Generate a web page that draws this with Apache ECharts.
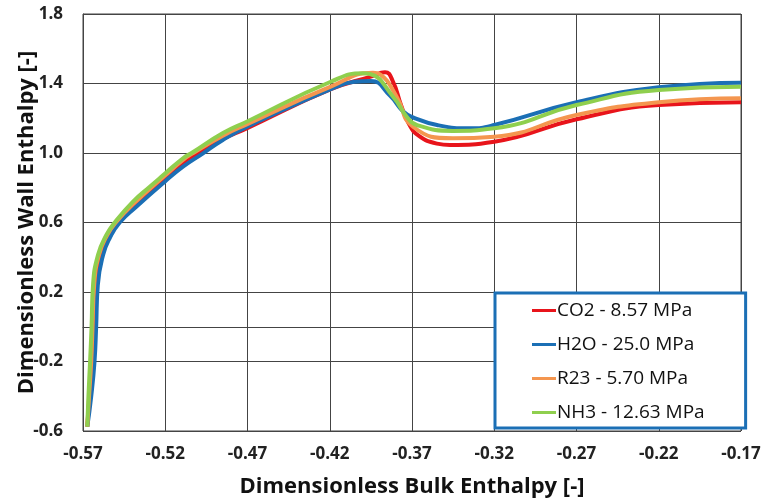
<!DOCTYPE html>
<html>
<head>
<meta charset="utf-8">
<script src="https://cdn.jsdelivr.net/npm/echarts@6/dist/echarts.min.js"></script>
<style>html,body{margin:0;padding:0;background:#fff}#c{width:767px;height:503px}</style>
</head>
<body>
<div id="c"></div>
<script>
var seriesNames = ['CO2 - 8.57 MPa', 'H2O - 25.0 MPa', 'R23 - 5.70 MPa', 'NH3 - 12.63 MPa'];
var xTicks = [-0.57, -0.52, -0.47, -0.42, -0.37, -0.32, -0.27, -0.22, -0.17];
var yTicks = [-0.6, -0.2, 0.2, 0.6, 1.0, 1.4, 1.8];

var co2 = [[-0.5674,-0.575],[-0.5660,-0.4],[-0.5645,-0.2],[-0.5635,0.0],[-0.5623,0.24],[-0.5595,0.413],[-0.5550,0.52],[-0.5487,0.6],[-0.5390,0.70],[-0.5203,0.854],[-0.5092,0.945],[-0.5000,1.0],[-0.4850,1.08],[-0.4705,1.142],[-0.4194,1.367],[-0.395,1.44],[-0.3864,1.465],[-0.3815,1.41],[-0.3768,1.28],[-0.3720,1.17],[-0.3660,1.10],[-0.3548,1.054],[-0.3469,1.046],[-0.32,1.065],[-0.27,1.194],[-0.22,1.276],[-0.17,1.292]];
var h2o = [[-0.5674,-0.575],[-0.5650,-0.4],[-0.5630,-0.2],[-0.5620,0.0],[-0.5610,0.24],[-0.5578,0.413],[-0.5538,0.509],[-0.5477,0.6],[-0.5376,0.691],[-0.5203,0.835],[-0.5092,0.921],[-0.4975,0.995],[-0.4850,1.075],[-0.4705,1.15],[-0.4194,1.367],[-0.405,1.41],[-0.395,1.415],[-0.3834,1.33],[-0.3755,1.24],[-0.3694,1.205],[-0.3548,1.161],[-0.3347,1.142],[-0.32,1.161],[-0.27,1.292],[-0.22,1.378],[-0.17,1.405]];
var r23 = [[-0.5674,-0.575],[-0.5663,-0.4],[-0.5650,-0.2],[-0.5642,0.0],[-0.5632,0.24],[-0.5603,0.413],[-0.5553,0.528],[-0.5501,0.6],[-0.5390,0.71],[-0.5203,0.869],[-0.5092,0.96],[-0.5030,1.0],[-0.4850,1.10],[-0.4705,1.165],[-0.4194,1.382],[-0.3937,1.462],[-0.3894,1.452],[-0.3793,1.324],[-0.3694,1.151],[-0.3451,1.085],[-0.32,1.094],[-0.27,1.219],[-0.22,1.292],[-0.17,1.315]];
var nh3 = [[-0.5674,-0.575],[-0.5667,-0.4],[-0.5657,-0.2],[-0.5648,0.0],[-0.5639,0.24],[-0.5609,0.413],[-0.5558,0.528],[-0.5507,0.6],[-0.5396,0.72],[-0.5294,0.806],[-0.5203,0.88],[-0.5092,0.97],[-0.5040,1.0],[-0.4849,1.115],[-0.4705,1.18],[-0.4194,1.41],[-0.3998,1.459],[-0.3955,1.455],[-0.3815,1.324],[-0.3732,1.209],[-0.3671,1.161],[-0.3451,1.127],[-0.32,1.142],[-0.27,1.276],[-0.22,1.363],[-0.17,1.382]];

var colors = ['#E8141B', '#1B6FB5', '#F4964F', '#8FCF4E'];
var font = 'Open Sans';

var chart = echarts.init(document.getElementById('c'));
function mk(name, data, i) {
  return { name: name, type: 'line', data: data, smooth: 0.5, symbol: 'none',
    lineStyle: { width: 4, color: colors[i] }, itemStyle: { color: colors[i] }, z: 2 + i };
}
chart.setOption({
  animation: false,
  grid: { left: 83, right: 26, top: 14, bottom: 72, show: true, borderColor: '#444', borderWidth: 1,
    containLabel: false, outerBoundsMode: 'none' },
  xAxis: {
    type: 'value', min: xTicks[0], max: xTicks[xTicks.length - 1], interval: 0.05,
    name: 'Dimensionless Bulk Enthalpy [-]', nameLocation: 'middle', nameGap: 45, nameMoveOverlap: false,
    nameTextStyle: { fontFamily: font, fontWeight: 'bold', fontSize: 22, color: '#111' },
    axisLine: { lineStyle: { color: '#444' } }, axisTick: { show: false },
    axisLabel: { fontFamily: font, fontWeight: 'bold', fontSize: 17, color: '#222', margin: 15,
      formatter: function (v) { return v.toFixed(2); } },
    splitLine: { show: true, lineStyle: { color: '#444', width: 1 } }
  },
  yAxis: {
    type: 'value', min: yTicks[0], max: yTicks[yTicks.length - 1], interval: 0.4,
    name: 'Dimensionless Wall Enthalpy [-]', nameLocation: 'middle', nameGap: 45, nameMoveOverlap: false,
    nameTextStyle: { fontFamily: font, fontWeight: 'bold', fontSize: 22, color: '#111' },
    axisLine: { show: true, lineStyle: { color: '#444' } }, axisTick: { show: false },
    axisLabel: { fontFamily: font, fontWeight: 'bold', fontSize: 17, color: '#222', margin: 20,
      formatter: function (v) { return v.toFixed(1); } },
    splitLine: { show: true, lineStyle: { color: '#444', width: 1 } }
  },
  legend: {
    orient: 'vertical', left: 495, top: 293,
    data: seriesNames,
    backgroundColor: '#fff', borderColor: '#1B6FB5', borderWidth: 3,
    padding: [8, 41, 6, 37], itemGap: 15, itemWidth: 24, itemHeight: 3,
    icon: 'rect',
    textStyle: { fontFamily: font, fontSize: 19, color: '#111', padding: [0, 0, 0, -4] }
  },
  series: [mk(seriesNames[0], co2, 0), mk(seriesNames[1], h2o, 1), mk(seriesNames[2], r23, 2), mk(seriesNames[3], nh3, 3)]
});
</script>
</body>
</html>
